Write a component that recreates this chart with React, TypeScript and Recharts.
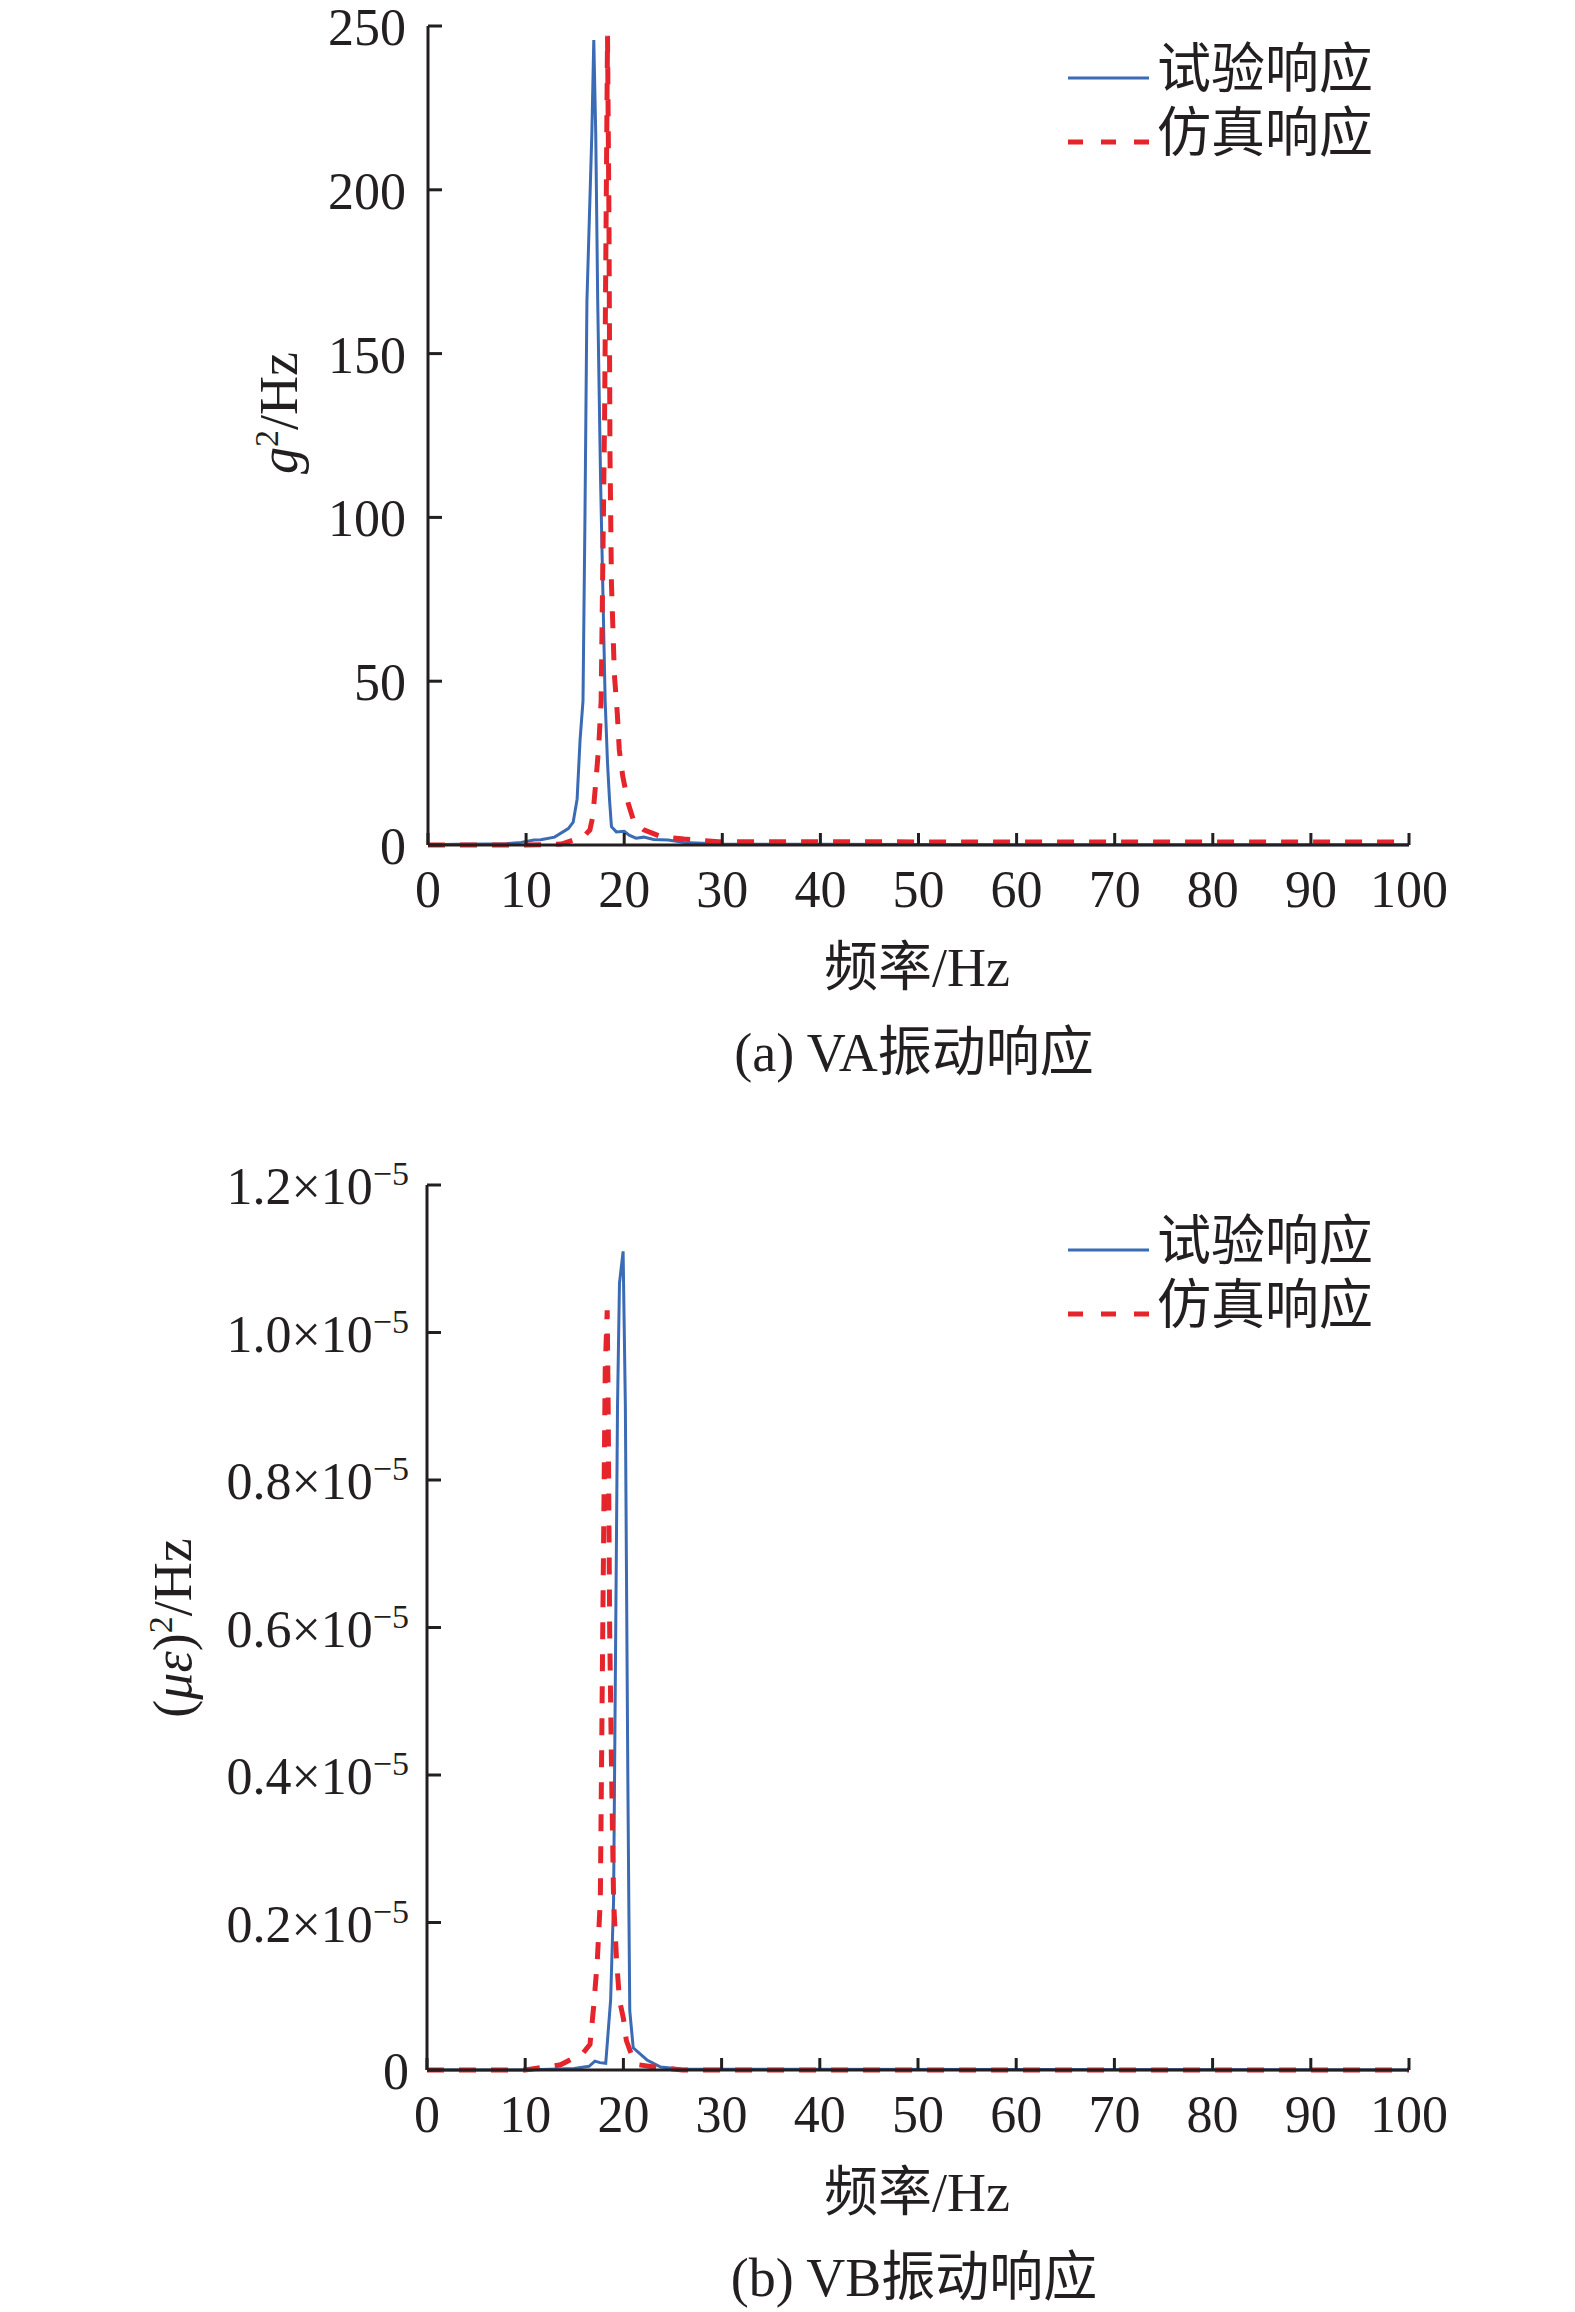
import React from 'react'
import { LineChart, Line, XAxis, YAxis, Legend } from 'recharts'

// (a) VA: test (blue) and simulated (red) PSD, g^2/Hz
const vaTestFreq = [0, 3, 6, 8, 9.5, 10.8, 11.5, 12.9, 14.3, 14.8, 15.2, 15.5, 15.8, 16.0, 16.2, 16.7, 16.9, 17.1, 17.3, 17.6, 18.06, 18.3, 18.5, 18.7, 19.2, 20.0, 20.5, 21.2, 22.0, 23.0, 24.5, 26, 28, 30, 40, 60, 80, 100]
const vaTestPsd = [0.1, 0.2, 0.3, 0.4, 0.8, 1.5, 1.6, 2.4, 5, 7, 14, 32, 44, 100, 166, 217, 245.7, 217, 166, 110, 44, 25, 14, 5.6, 4, 4.2, 3, 2.1, 2.4, 1.7, 1.5, 0.8, 0.5, 0.3, 0.2, 0.1, 0.1, 0.1]
const vaSimFreq = [0, 4, 8, 10, 12, 13.6, 14.9, 16.0, 16.5, 16.8, 17.1, 17.4, 17.65, 18.0, 18.3, 18.45, 18.55, 18.7, 19.0, 19.3, 19.5, 19.85, 20.4, 21, 22, 23.8, 26.1, 29.6, 40, 60, 80, 100]
const vaSimPsd = [0, 0, 0, 0, 0.1, 0.3, 1.6, 3, 4.6, 8.7, 19, 30, 44, 130, 247, 190, 120, 80, 52, 40, 29, 21, 12.8, 7, 4.6, 2.5, 1.8, 1.0, 1.0, 0.9, 0.9, 0.9]

// (b) VB: values in units of 1e-5 (με)^2/Hz
const vbTestFreq = [0, 10, 15, 16.5, 17.1, 17.6, 18.2, 18.7, 19.0, 19.4, 19.6, 19.97, 20.2, 20.45, 20.55, 20.65, 21.0, 22.4, 23.8, 26, 100]
const vbTestPsd = [0, 0, 0.002, 0.005, 0.012, 0.01, 0.009, 0.095, 0.23, 0.9, 1.067, 1.11, 0.9, 0.4, 0.23, 0.08, 0.03, 0.0136, 0.004, 0.001, 0]
const vbSimFreq = [0, 10, 11.5, 13.6, 15.9, 16.6, 17.0, 17.35, 17.65, 17.9, 18.15, 18.35, 18.45, 18.6, 18.8, 19.0, 19.3, 19.6, 20.0, 20.3, 20.9, 21.6, 23.8, 26, 100]
const vbSimPsd = [0, 0, 0.003, 0.007, 0.023, 0.035, 0.09, 0.15, 0.23, 0.6, 0.95, 1.03, 0.9, 0.6, 0.4, 0.23, 0.15, 0.095, 0.07, 0.04, 0.018, 0.007, 0.003, 0, 0]

const xTicks = [0, 10, 20, 30, 40, 50, 60, 70, 80, 90, 100]
const vaTicks = [0, 50, 100, 150, 200, 250]
const vbTicks = [0, 0.2, 0.4, 0.6, 0.8, 1.0, 1.2]

const seriesNames = ['试验响应', '仿真响应']
const captions = ['(a) VA振动响应', '(b) VB振动响应']

const BLUE = '#3a6bb4'
const RED = '#e5242b'
const INK = '#231f20'
const FONT = "'Liberation Serif', 'Noto Sans CJK SC', serif"

const zip = (f: number[], v: number[]) => f.map((x, i) => ({ f: x, v: v[i] }))

function XTick({ x, y, payload }: any) {
  return (
    <g>
      <line x1={x} y1={y} x2={x} y2={y - 12} stroke={INK} strokeWidth={3} />
      <text x={x} y={y + 62} textAnchor="middle" fontSize={52} fontFamily={FONT} fill={INK}>
        {payload.value}
      </text>
    </g>
  )
}

function makeYTick(sci: boolean) {
  return ({ x, y, payload }: any) => {
    const v = payload.value
    return (
      <g>
        <line x1={x} y1={y} x2={x + 14} y2={y} stroke={INK} strokeWidth={3} />
        <text x={x - (sci ? 18 : 22)} y={y + 19} textAnchor="end" fontSize={52} fontFamily={FONT} fill={INK}>
          {sci && v !== 0 ? (
            <>
              {v.toFixed(1)}×10
              <tspan dy={-19} fontSize={34}>−5</tspan>
            </>
          ) : (
            v
          )}
        </text>
      </g>
    )
  }
}

function LegendBox() {
  const rows = [
    { name: seriesNames[0], color: BLUE, dash: undefined, w: 3 },
    { name: seriesNames[1], color: RED, dash: '15 18', w: 5 },
  ]
  return (
    <div style={{ fontFamily: FONT, fontSize: 54, color: INK }}>
      {rows.map((r) => (
        <div key={r.name} style={{ display: 'flex', alignItems: 'center', height: 64 }}>
          <svg width={89} height={64}>
            <line x1={0} y1={40} x2={81} y2={40} stroke={r.color} strokeWidth={r.w} strokeDasharray={r.dash} />
          </svg>
          <span style={{ lineHeight: '64px', whiteSpace: 'nowrap' }}>{r.name}</span>
        </div>
      ))}
    </div>
  )
}

function Txt({ x, y, rotate, children }: any) {
  return (
    <div
      style={{
        position: 'absolute',
        left: x,
        top: y,
        transform: `translate(-50%, -50%)${rotate ? ' rotate(-90deg)' : ''}`,
        fontFamily: FONT,
        fontSize: 54,
        color: INK,
        whiteSpace: 'nowrap',
        lineHeight: 1,
      }}
    >
      {children}
    </div>
  )
}

function Panel({ top, height, margin, test, sim, yMax, yTicks, sci, legendTop }: any) {
  return (
    <div style={{ position: 'absolute', left: 0, top, width: 1575, height }}>
      <LineChart width={1575} height={height} margin={margin}>
        <XAxis
          type="number"
          dataKey="f"
          domain={[0, 100]}
          ticks={xTicks}
          height={60}
          tickLine={false}
          tickSize={0}
          tickMargin={0}
          axisLine={{ stroke: INK, strokeWidth: 3 }}
          tick={<XTick />}
          interval={0}
        />
        <YAxis
          type="number"
          dataKey="v"
          domain={[0, yMax]}
          ticks={yTicks}
          width={100}
          tickLine={false}
          tickSize={0}
          tickMargin={0}
          axisLine={{ stroke: INK, strokeWidth: 3 }}
          tick={makeYTick(sci)}
          interval={0}
        />
        <Legend
          layout="vertical"
          align="center"
          verticalAlign="middle"
          content={<LegendBox />}
          wrapperStyle={{ left: 1068, top: legendTop, width: 360 }}
        />
        <Line
          data={test}
          dataKey="v"
          name={seriesNames[0]}
          type="linear"
          stroke={BLUE}
          strokeWidth={3}
          dot={false}
          activeDot={false}
          isAnimationActive={false}
        />
        <Line
          data={sim}
          dataKey="v"
          name={seriesNames[1]}
          type="linear"
          stroke={RED}
          strokeWidth={5}
          strokeDasharray="17 15"
          dot={false}
          activeDot={false}
          isAnimationActive={false}
        />
      </LineChart>
    </div>
  )
}

export default function App() {
  return (
    <div style={{ position: 'absolute', left: 0, top: 0, width: 1575, height: 2312, background: '#fff' }}>
      <Panel
        top={0}
        height={1100}
        margin={{ top: 26, right: 166, bottom: 195, left: 328 }}
        test={zip(vaTestFreq, vaTestPsd)}
        sim={zip(vaSimFreq, vaSimPsd)}
        yMax={250}
        yTicks={vaTicks}
        sci={false}
        legendTop={38}
      />
      <Panel
        top={1100}
        height={1212}
        margin={{ top: 85, right: 166, bottom: 182, left: 327 }}
        test={zip(vbTestFreq, vbTestPsd)}
        sim={zip(vbSimFreq, vbSimPsd)}
        yMax={1.2}
        yTicks={vbTicks}
        sci={true}
        legendTop={110}
      />
      <Txt x={278} y={413} rotate>
        <i>g</i>
        <span style={{ fontSize: 34, verticalAlign: 'super' }}>2</span>/Hz
      </Txt>
      <Txt x={917} y={968}>频率/Hz</Txt>
      <Txt x={914} y={1053}>{captions[0]}</Txt>
      <Txt x={172} y={1628} rotate>
        (<i>με</i>)<span style={{ fontSize: 34, verticalAlign: 'super' }}>2</span>/Hz
      </Txt>
      <Txt x={917} y={2193}>频率/Hz</Txt>
      <Txt x={914} y={2278}>{captions[1]}</Txt>
    </div>
  )
}
